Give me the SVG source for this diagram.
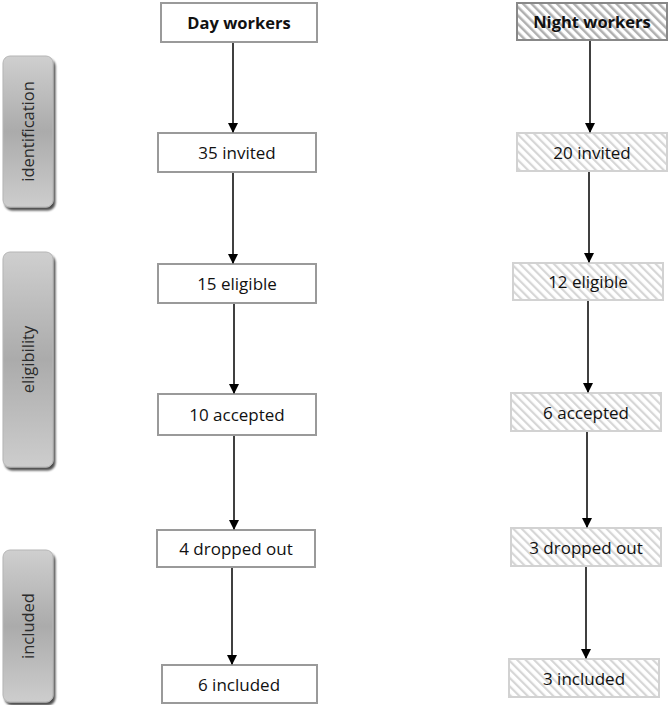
<svg xmlns="http://www.w3.org/2000/svg" width="669" height="705" viewBox="0 0 669 705">
<defs>
<linearGradient id="sideGrad" x1="0" y1="0" x2="0" y2="1">
<stop offset="0" stop-color="#cfcfcf"/>
<stop offset="0.5" stop-color="#ababab"/>
<stop offset="1" stop-color="#cdcdcd"/>
</linearGradient>
<pattern id="hatch" patternUnits="userSpaceOnUse" width="6" height="6" patternTransform="rotate(-45)">
<rect width="6" height="6" fill="#ffffff"/>
<rect x="0" y="0" width="2.2" height="6" fill="#d6d6d6"/>
</pattern>
<pattern id="hatchDark" patternUnits="userSpaceOnUse" width="6" height="6" patternTransform="rotate(-45)">
<rect width="6" height="6" fill="#ffffff"/>
<rect x="0" y="0" width="2.5" height="6" fill="#b0b0b0"/>
</pattern>
<marker id="arrow" markerWidth="10" markerHeight="10" refX="9" refY="5" orient="auto" markerUnits="userSpaceOnUse">
<path d="M0,0 L10,5 L0,10 Z" fill="#000"/>
</marker>
<filter id="shadow" x="-20%" y="-10%" width="150%" height="130%">
<feGaussianBlur in="SourceAlpha" stdDeviation="1.2"/>
<feOffset dx="2" dy="3" result="o"/>
<feComponentTransfer><feFuncA type="linear" slope="0.7"/></feComponentTransfer>
<feMerge><feMergeNode/><feMergeNode in="SourceGraphic"/></feMerge>
</filter>
</defs>
<style>
.side{fill:url(#sideGrad);stroke:#b5b5b5;stroke-width:1;filter:url(#shadow)}
.sidet{font-family:"Open Sans","Liberation Sans",sans-serif;font-size:16.5px;fill:#2a2a2a;text-anchor:middle}
.day{fill:#ffffff;stroke:#9a9a9a;stroke-width:2}
.night{fill:url(#hatch);stroke:#d2d2d2;stroke-width:2}
.nighthead{fill:url(#hatchDark);stroke:#888888;stroke-width:2}
.t{font-family:"Open Sans","Liberation Sans",sans-serif;font-size:17px;fill:#111;text-anchor:middle}
.tb{font-family:"Open Sans","Liberation Sans",sans-serif;font-size:16.5px;font-weight:bold;fill:#111;text-anchor:middle}
.c{stroke:#000;stroke-width:1.5;fill:none;marker-end:url(#arrow)}
</style>

<g id="side-identification">
<rect class="side" x="3" y="56" width="50" height="151" rx="7"/>
<text class="sidet" transform="translate(34,131.5) rotate(-90)">identification</text>
</g>
<g id="side-eligibility">
<rect class="side" x="3" y="252" width="50" height="215" rx="7"/>
<text class="sidet" transform="translate(34,359.5) rotate(-90)">eligibility</text>
</g>
<g id="side-included">
<rect class="side" x="3" y="550" width="50" height="152" rx="7"/>
<text class="sidet" transform="translate(34,626) rotate(-90)">included</text>
</g>

<g id="day-workers">
<rect class="day" x="161" y="3" width="156" height="39"/>
<text class="tb" x="239" y="28.5">Day workers</text>
</g>
<g id="day-invited">
<rect class="day" x="158" y="133" width="158" height="39"/>
<text class="t" x="237" y="159">35 invited</text>
</g>
<g id="day-eligible">
<rect class="day" x="158" y="264" width="158" height="39"/>
<text class="t" x="237" y="290">15 eligible</text>
</g>
<g id="day-accepted">
<rect class="day" x="158" y="394" width="158" height="41"/>
<text class="t" x="237" y="421">10 accepted</text>
</g>
<g id="day-dropped">
<rect class="day" x="157" y="530" width="158" height="37"/>
<text class="t" x="236" y="555">4 dropped out</text>
</g>
<g id="day-included">
<rect class="day" x="162" y="665" width="155" height="38"/>
<text class="t" x="239" y="691">6 included</text>
</g>

<g id="night-workers">
<rect class="nighthead" x="517" y="3" width="150" height="37"/>
<text class="tb" x="592" y="27.5">Night workers</text>
</g>
<g id="night-invited">
<rect class="night" x="517" y="133" width="150" height="38"/>
<text class="t" x="592" y="159">20 invited</text>
</g>
<g id="night-eligible">
<rect class="night" x="513" y="263" width="150" height="37"/>
<text class="t" x="588" y="288">12 eligible</text>
</g>
<g id="night-accepted">
<rect class="night" x="511" y="393" width="150" height="38"/>
<text class="t" x="586" y="419">6 accepted</text>
</g>
<g id="night-dropped">
<rect class="night" x="511" y="528" width="150" height="38"/>
<text class="t" x="586" y="554">3 dropped out</text>
</g>
<g id="night-included">
<rect class="night" x="509" y="659" width="150" height="38"/>
<text class="t" x="584" y="685">3 included</text>
</g>

<g id="connectors">
<line class="c" x1="233" y1="43" x2="233" y2="132"/>
<line class="c" x1="233" y1="173" x2="233" y2="263"/>
<line class="c" x1="234" y1="304" x2="234" y2="393"/>
<line class="c" x1="234" y1="436" x2="234" y2="529"/>
<line class="c" x1="232" y1="568" x2="232" y2="664"/>
<line class="c" x1="590" y1="41" x2="590" y2="132"/>
<line class="c" x1="589" y1="172" x2="589" y2="262"/>
<line class="c" x1="588" y1="301" x2="588" y2="392"/>
<line class="c" x1="587" y1="432" x2="587" y2="527"/>
<line class="c" x1="586" y1="567" x2="586" y2="658"/>
</g>
</svg>
